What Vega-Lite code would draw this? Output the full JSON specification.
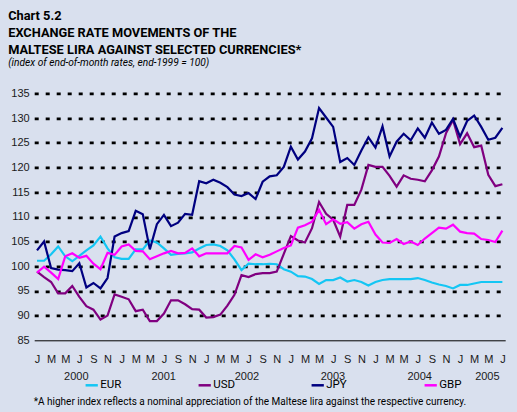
{
  "$schema": "https://vega.github.io/schema/vega-lite/v6.json",
  "autosize": {"type": "none"},
  "width": 471,
  "height": 247,
  "padding": {"left": 34.2, "top": 93.3, "right": 11.8, "bottom": 71.7},
  "background": "#d9e0ee",
  "config": {"view": {"stroke": null}, "font": "Liberation Sans"},
  "title": {
    "text": ["Chart 5.2", "EXCHANGE RATE MOVEMENTS OF THE", "MALTESE LIRA AGAINST SELECTED CURRENCIES*"],
    "subtitle": "(index of end-of-month rates, end-1999 = 100)",
    "anchor": "start",
    "frame": "group",
    "dx": -26,
    "offset": 19,
    "font": "Roboto",
    "fontSize": 12.8,
    "fontWeight": "bold",
    "lineHeight": 17.2,
    "color": "black",
    "subtitleFont": "Roboto",
    "subtitleFontStyle": "italic",
    "subtitleFontSize": 10.2,
    "subtitleColor": "black",
    "subtitlePadding": 1
  },
  "data": {"values": [
    {"m":0,"EUR":101.1,"USD":98.9,"JPY":103.2,"GBP":98.7},
    {"m":1,"EUR":101.1,"USD":97.8,"JPY":105.0,"GBP":99.9},
    {"m":2,"EUR":102.4,"USD":96.8,"JPY":99.6,"GBP":98.7},
    {"m":3,"EUR":104.0,"USD":94.5,"JPY":99.3,"GBP":97.4},
    {"m":4,"EUR":102.0,"USD":94.5,"JPY":99.2,"GBP":102.0},
    {"m":5,"EUR":101.0,"USD":96.0,"JPY":99.0,"GBP":102.6},
    {"m":6,"EUR":102.1,"USD":93.8,"JPY":100.6,"GBP":101.7},
    {"m":7,"EUR":103.2,"USD":91.9,"JPY":95.7,"GBP":102.1},
    {"m":8,"EUR":104.2,"USD":91.2,"JPY":96.6,"GBP":100.5},
    {"m":9,"EUR":106.0,"USD":89.2,"JPY":95.5,"GBP":99.4},
    {"m":10,"EUR":103.6,"USD":90.0,"JPY":97.6,"GBP":102.7},
    {"m":11,"EUR":101.8,"USD":94.3,"JPY":106.0,"GBP":102.3},
    {"m":12,"EUR":101.5,"USD":93.8,"JPY":106.7,"GBP":104.0},
    {"m":13,"EUR":101.5,"USD":93.3,"JPY":107.1,"GBP":104.4},
    {"m":14,"EUR":103.4,"USD":90.9,"JPY":111.2,"GBP":103.1},
    {"m":15,"EUR":103.4,"USD":91.2,"JPY":110.5,"GBP":103.0},
    {"m":16,"EUR":105.2,"USD":88.9,"JPY":103.4,"GBP":101.4},
    {"m":17,"EUR":104.8,"USD":88.9,"JPY":108.5,"GBP":102.0},
    {"m":18,"EUR":103.6,"USD":90.4,"JPY":110.4,"GBP":102.6},
    {"m":19,"EUR":102.3,"USD":93.1,"JPY":108.1,"GBP":103.1},
    {"m":20,"EUR":102.5,"USD":93.1,"JPY":108.8,"GBP":102.6},
    {"m":21,"EUR":102.6,"USD":92.3,"JPY":110.6,"GBP":102.7},
    {"m":22,"EUR":102.8,"USD":91.3,"JPY":110.4,"GBP":103.6},
    {"m":23,"EUR":103.6,"USD":91.2,"JPY":117.2,"GBP":102.0},
    {"m":24,"EUR":104.3,"USD":89.6,"JPY":116.8,"GBP":102.6},
    {"m":25,"EUR":104.4,"USD":89.7,"JPY":117.5,"GBP":102.6},
    {"m":26,"EUR":104.1,"USD":90.2,"JPY":116.9,"GBP":102.6},
    {"m":27,"EUR":103.2,"USD":92.0,"JPY":116.0,"GBP":102.6},
    {"m":28,"EUR":101.4,"USD":94.2,"JPY":114.5,"GBP":104.1},
    {"m":29,"EUR":99.2,"USD":98.2,"JPY":114.2,"GBP":103.8},
    {"m":30,"EUR":100.5,"USD":97.8,"JPY":114.8,"GBP":101.3},
    {"m":31,"EUR":100.4,"USD":98.4,"JPY":113.6,"GBP":102.4},
    {"m":32,"EUR":100.4,"USD":98.6,"JPY":117.1,"GBP":101.8},
    {"m":33,"EUR":100.5,"USD":98.6,"JPY":118.2,"GBP":102.3},
    {"m":34,"EUR":100.4,"USD":98.9,"JPY":118.4,"GBP":103.0},
    {"m":35,"EUR":99.4,"USD":102.5,"JPY":120.1,"GBP":103.7},
    {"m":36,"EUR":98.9,"USD":106.1,"JPY":124.2,"GBP":104.2},
    {"m":37,"EUR":98.0,"USD":105.2,"JPY":121.6,"GBP":107.8},
    {"m":38,"EUR":97.9,"USD":104.8,"JPY":123.2,"GBP":108.3},
    {"m":39,"EUR":97.4,"USD":107.7,"JPY":125.9,"GBP":109.0},
    {"m":40,"EUR":96.4,"USD":113.0,"JPY":132.0,"GBP":111.4},
    {"m":41,"EUR":97.2,"USD":110.6,"JPY":130.1,"GBP":108.5},
    {"m":42,"EUR":97.2,"USD":109.4,"JPY":128.2,"GBP":109.5},
    {"m":43,"EUR":97.7,"USD":106.0,"JPY":121.1,"GBP":108.6},
    {"m":44,"EUR":96.9,"USD":112.4,"JPY":121.9,"GBP":108.9},
    {"m":45,"EUR":97.2,"USD":112.4,"JPY":120.5,"GBP":107.6},
    {"m":46,"EUR":96.8,"USD":115.5,"JPY":123.4,"GBP":108.5},
    {"m":47,"EUR":96.1,"USD":120.5,"JPY":126.1,"GBP":109.0},
    {"m":48,"EUR":96.8,"USD":120.1,"JPY":124.0,"GBP":106.4},
    {"m":49,"EUR":97.2,"USD":120.1,"JPY":128.3,"GBP":104.8},
    {"m":50,"EUR":97.4,"USD":118.3,"JPY":122.2,"GBP":104.7},
    {"m":51,"EUR":97.4,"USD":116.1,"JPY":125.2,"GBP":105.5},
    {"m":52,"EUR":97.4,"USD":118.4,"JPY":126.8,"GBP":104.5},
    {"m":53,"EUR":97.4,"USD":117.7,"JPY":125.5,"GBP":105.0},
    {"m":54,"EUR":97.6,"USD":117.5,"JPY":127.9,"GBP":104.3},
    {"m":55,"EUR":97.2,"USD":117.2,"JPY":126.0,"GBP":105.6},
    {"m":56,"EUR":96.7,"USD":119.4,"JPY":129.1,"GBP":106.7},
    {"m":57,"EUR":96.3,"USD":122.2,"JPY":126.8,"GBP":107.8},
    {"m":58,"EUR":96.0,"USD":126.9,"JPY":127.6,"GBP":107.6},
    {"m":59,"EUR":95.5,"USD":129.6,"JPY":129.8,"GBP":108.4},
    {"m":60,"EUR":96.2,"USD":124.7,"JPY":126.2,"GBP":107.0},
    {"m":61,"EUR":96.2,"USD":126.9,"JPY":129.4,"GBP":106.7},
    {"m":62,"EUR":96.5,"USD":124.1,"JPY":130.5,"GBP":106.6},
    {"m":63,"EUR":96.8,"USD":124.4,"JPY":128.2,"GBP":105.5},
    {"m":64,"EUR":96.8,"USD":118.5,"JPY":125.6,"GBP":105.3},
    {"m":65,"EUR":96.8,"USD":116.2,"JPY":126.0,"GBP":104.9},
    {"m":66,"EUR":96.8,"USD":116.6,"JPY":128.0,"GBP":107.2}
  ]},
  "transform": [{"fold": ["EUR", "USD", "JPY", "GBP"], "as": ["currency", "index"]}],
  "mark": {"type": "line", "strokeWidth": 2.2, "clip": false},
  "encoding": {
    "x": {
      "field": "m",
      "type": "quantitative",
      "scale": {"domain": [-0.4, 66.4], "nice": false, "zero": false},
      "axis": {
        "values": [0,2,4,6,8,10,12,14,16,18,20,22,24,26,28,30,32,34,36,38,40,42,44,46,48,50,52,54,56,58,60,62,64,66,5.5,17.9,29.7,41.9,54.2,63.8],
        "labelExpr": "(floor(datum.value) == datum.value && datum.value % 2 == 0) ? ['J','F','M','A','M','J','J','A','S','O','N','D'][datum.value % 12] : ['', '' + (2000 + floor((datum.value + 0.5) / 12))]",
        "labelOverlap": false,
        "labelFlush": false,
        "labelBound": false,
        "grid": false,
        "ticks": false,
        "domain": true,
        "domainColor": "black",
        "domainWidth": 1,
        "labelPadding": 13.5,
        "labelFontSize": 11,
        "labelLineHeight": 16.5,
        "labelColor": "#1a1a1a",
        "labelFont": "Liberation Sans",
        "title": "*A higher index reflects a nominal appreciation of the Maltese lira against the respective currency.",
        "titleFont": "Roboto",
        "titleFontSize": 10,
        "titleFontWeight": "normal",
        "titleColor": "black",
        "titleAnchor": "start",
        "titleAlign": "left",
        "titleX": -1,
        "titleY": 64.5,
        "titleBaseline": "alphabetic"
      }
    },
    "y": {
      "field": "index",
      "type": "quantitative",
      "scale": {"domain": [85, 135], "nice": false, "zero": false},
      "axis": {
        "values": [85,90,95,100,105,110,115,120,125,130,135],
        "grid": true,
        "gridColor": "black",
        "gridDash": [4, 7],
        "gridWidth": 2.7,
        "gridOpacity": {"condition": {"test": "datum.value == 85", "value": 0}, "value": 1},
        "domain": false,
        "ticks": false,
        "labelPadding": 5,
        "labelFontSize": 11,
        "labelColor": "#1a1a1a",
        "labelFont": "Liberation Sans",
        "title": null
      }
    },
    "color": {
      "field": "currency",
      "type": "nominal",
      "scale": {"domain": ["EUR", "USD", "JPY", "GBP"], "range": ["#14c6f4", "#800080", "#000080", "#ff00ff"]},
      "legend": {
        "orient": "none",
        "legendX": 50,
        "legendY": 284.5,
        "direction": "horizontal",
        "title": null,
        "symbolType": "stroke",
        "symbolSize": 150,
        "symbolStrokeWidth": 2.5,
        "labelFont": "Roboto",
        "labelFontSize": 11.5,
        "labelColor": "black",
        "labelOffset": 1,
        "columnPadding": 70,
        "gridAlign": "all",
        "padding": 0
      }
    }
  }
}
